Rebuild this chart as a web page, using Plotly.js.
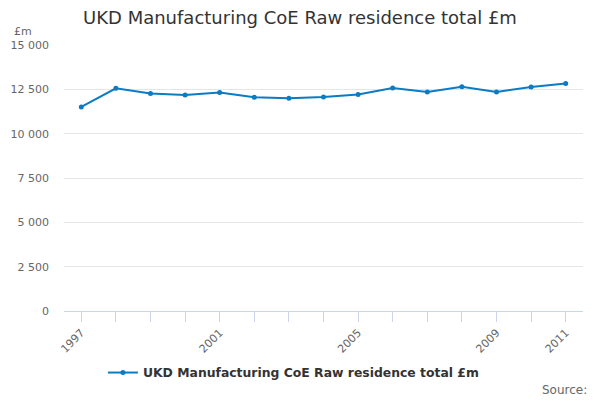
<!DOCTYPE html>
<html>
<head>
<meta charset="utf-8">
<script src="https://cdn.plot.ly/plotly-3.0.1.min.js"></script>
<style>
  html, body { margin: 0; padding: 0; background: #fff; }
  #chart { width: 600px; height: 400px; }
</style>
</head>
<body>
<div id="chart"></div>
<script>
/* ─── Data ─── */
const YEARS = [1997, 1998, 1999, 2000, 2001, 2002, 2003, 2004, 2005, 2006, 2007, 2008, 2009, 2010, 2011];
const VALUES = [11510, 12555, 12260, 12185, 12315, 12055, 12000, 12070, 12205, 12570, 12350, 12650, 12350, 12630, 12830];
const Y_TICKS = [0, 2500, 5000, 7500, 10000, 12500, 15000];
const Y_TICK_TEXT = ['0', '2 500', '5 000', '7 500', '10 000', '12 500', '15 000'];
const X_LABELLED = [1997, 2001, 2005, 2009, 2011];

const SERIES_NAME = 'UKD Manufacturing CoE Raw residence total £m';
const FONT = '"DejaVu Sans", "Liberation Sans", sans-serif';
const BLUE = '#0b7bc4';
const AXIS_LINE = '#ccd6eb';

const trace = {
  x: YEARS,
  y: VALUES,
  mode: 'lines+markers',
  name: SERIES_NAME,
  line: { color: BLUE, width: 2 },
  marker: { color: BLUE, size: 5, symbol: 'circle' },
  hoverinfo: 'x+y',
};

const layout = {
  width: 600,
  height: 400,
  paper_bgcolor: '#fff',
  plot_bgcolor: '#fff',
  font: { family: FONT, color: '#666', size: 11 },
  margin: { l: 64, r: 17, t: 45, b: 89 },
  title: {
    text: 'UKD Manufacturing CoE Raw residence total £m',
    font: { family: FONT, size: 18, color: '#333' },
    x: 0.5, xanchor: 'center',
    y: 0.955, yanchor: 'middle',
  },
  xaxis: {
    range: [1996.5, 2011.5],
    tickvals: YEARS,
    ticktext: YEARS.map(y => (X_LABELLED.includes(y) ? String(y) : '')),
    tickangle: -45,
    ticks: 'outside',
    ticklen: 10,
    tickcolor: AXIS_LINE,
    showline: true,
    linecolor: AXIS_LINE,
    showgrid: false,
    zeroline: false,
    tickfont: { size: 11, color: '#666' },
  },
  yaxis: {
    range: [0, 15000],
    tickvals: Y_TICKS,
    ticktext: Y_TICK_TEXT,
    showgrid: true,
    gridcolor: '#e6e6e6',
    zeroline: false,
    showline: false,
    ticks: '',
    ticklabelstandoff: 14,
    tickfont: { size: 11, color: '#666' },
  },
  showlegend: true,
  legend: {
    orientation: 'h',
    x: 0.075, xanchor: 'left',
    y: -0.233, yanchor: 'middle',
    font: { family: FONT, size: 12.4, color: '#333', weight: 'bold' },
  },
  annotations: [
    {
      text: '£m', xref: 'paper', yref: 'paper',
      x: -0.1, y: 1.049, xanchor: 'left', yanchor: 'middle',
      showarrow: false, font: { size: 11, color: '#666' },
    },
    {
      text: 'Source:', xref: 'paper', yref: 'paper',
      x: 1.0116, y: -0.297, xanchor: 'right', yanchor: 'middle',
      showarrow: false, font: { size: 12, color: '#666' },
    },
  ],
};

Plotly.newPlot('chart', [trace], layout, { displayModeBar: false, staticPlot: true });
</script>
</body>
</html>
